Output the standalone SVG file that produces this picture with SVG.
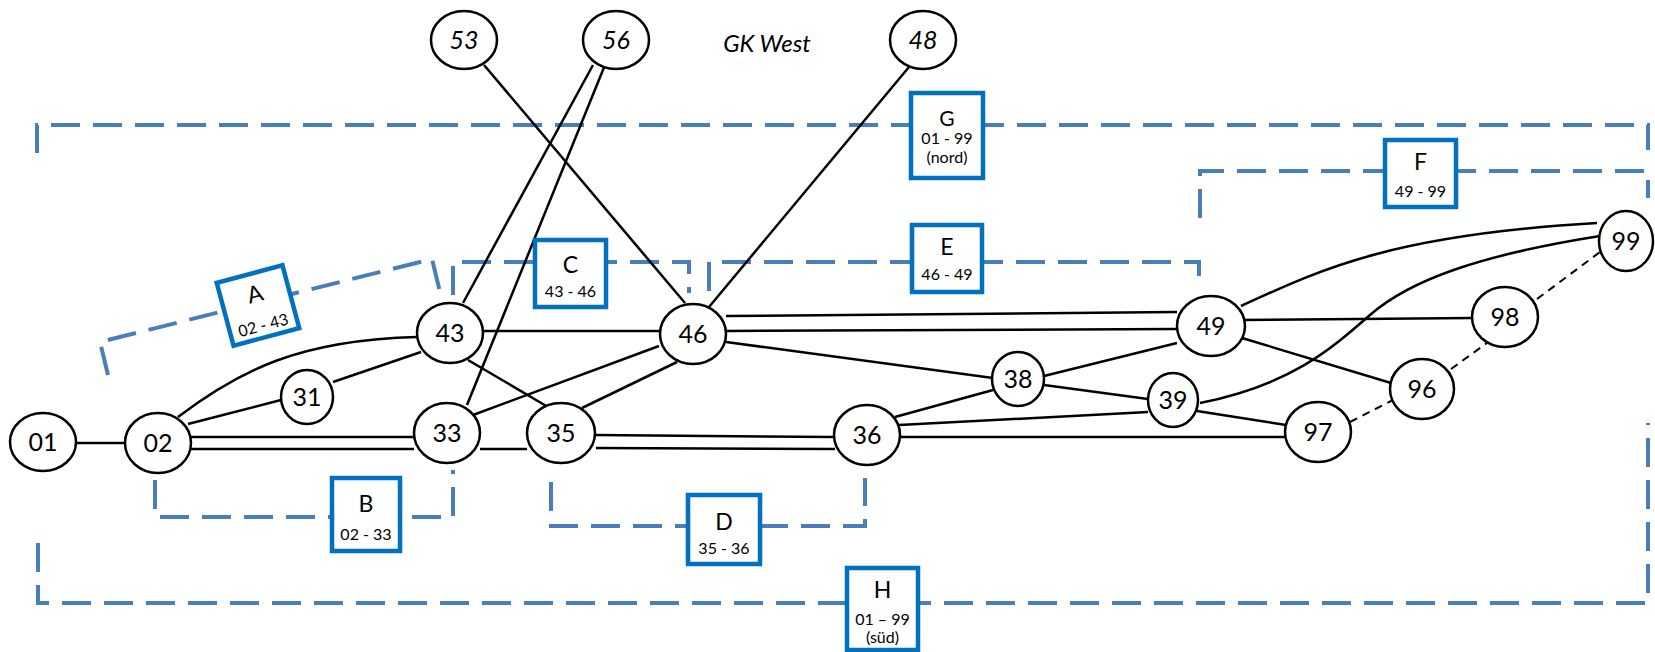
<svg xmlns="http://www.w3.org/2000/svg" width="1655" height="652" viewBox="0 0 1655 652">
<style>
.bg{fill:#ffffff}
.e{stroke:#000;stroke-width:2.5;fill:none}
.ed{stroke:#000;stroke-width:2;fill:none;stroke-dasharray:8 6}
.n{fill:#fff;stroke:#000;stroke-width:2.5}
.nt{font-family:Lato,"Liberation Sans",sans-serif;font-size:25px;fill:#000;text-anchor:middle}
.it{font-style:italic}
.reg{stroke:#4A7EBB;stroke-width:4;fill:none;stroke-dasharray:29 13}
.box{fill:#fff;stroke:#0070C0;stroke-width:4.5}
.bl{font-family:Lato,"Liberation Sans",sans-serif;font-size:23px;fill:#000;text-anchor:middle}
.bs{font-family:Lato,"Liberation Sans",sans-serif;font-size:16px;fill:#000;text-anchor:middle}
</style>
<rect class="bg" x="0" y="0" width="1655" height="652"/>

<g id="regions">
  <path id="reg-A" class="reg" d="M108,375 L100,342 L432,259 L440,292"/>
  <path id="reg-B" class="reg" d="M155,480 L155,517 L453,517 L453,470"/>
  <path id="reg-C" class="reg" d="M453,295 L453,262 L689,262 L689,293"/>
  <path id="reg-D" class="reg" d="M551,482 L551,526 L865,526 L865,478"/>
  <path id="reg-E" class="reg" d="M709,291 L709,262 L1199,262 L1199,285"/>
  <path id="reg-F" class="reg" d="M1200,218 L1200,171 L1648,171 L1648,198"/>
  <path id="reg-G" class="reg" d="M37,153 L37,125 L1648,125 L1648,150"/>
  <path id="reg-H" class="reg" d="M38,543 L38,603 L1648,603 L1648,423"/>
</g>

<g id="connectors">
  <line class="e" x1="76" y1="443" x2="125" y2="443"/>
  <line class="e" x1="188" y1="424" x2="281" y2="400"/>
  <path class="e" d="M178,417 C240,370 300,340 417,337"/>
  <line class="e" x1="333" y1="382" x2="421" y2="352"/>
  <line class="e" x1="191" y1="437" x2="414" y2="437"/>
  <line class="e" x1="191" y1="449" x2="414" y2="449"/>
  <line class="e" x1="480" y1="449" x2="527" y2="449"/>
  <line class="e" x1="483" y1="331" x2="660" y2="331"/>
  <line class="e" x1="468" y1="360" x2="548" y2="407"/>
  <line class="e" x1="473" y1="415" x2="659" y2="346"/>
  <line class="e" x1="582" y1="408" x2="677" y2="362"/>
  <line class="e" x1="593" y1="65" x2="463" y2="303"/>
  <line class="e" x1="605" y1="65" x2="467" y2="405"/>
  <line class="e" x1="484" y1="65" x2="685" y2="303"/>
  <line class="e" x1="909" y1="67" x2="709" y2="307"/>
  <line class="e" x1="726" y1="316" x2="1177" y2="312"/>
  <line class="e" x1="726" y1="331" x2="1177" y2="329"/>
  <line class="e" x1="726" y1="342" x2="993" y2="378"/>
  <line class="e" x1="595" y1="435" x2="834" y2="437"/>
  <line class="e" x1="596" y1="448" x2="835" y2="449"/>
  <line class="e" x1="895" y1="417" x2="993" y2="390"/>
  <line class="e" x1="899" y1="425" x2="1148" y2="412"/>
  <line class="e" x1="899" y1="437" x2="1286" y2="437"/>
  <line class="e" x1="1044" y1="376" x2="1177" y2="343"/>
  <line class="e" x1="1044" y1="385" x2="1148" y2="399"/>
  <line class="e" x1="1197" y1="411" x2="1286" y2="425"/>
  <line class="e" x1="1243" y1="320" x2="1473" y2="318"/>
  <line class="e" x1="1242" y1="338" x2="1391" y2="383"/>
  <path class="e" d="M1241,306 C1320,270 1390,235 1597,223"/>
  <path class="e" d="M1200,403 C1290,385 1330,350 1370,315 S1480,255 1600,236"/>
  <line class="ed" x1="1350" y1="422" x2="1393" y2="400"/>
  <line class="ed" x1="1451" y1="369" x2="1487" y2="343"/>
  <line class="ed" x1="1537" y1="299" x2="1600" y2="252"/>
</g>

<g id="n01"><ellipse class="n" cx="43" cy="442" rx="33" ry="29"/><text class="nt" x="43" y="451">01</text></g>
<g id="n02"><ellipse class="n" cx="158" cy="443" rx="33" ry="30"/><text class="nt" x="158" y="452">02</text></g>
<g id="n31"><ellipse class="n" cx="307" cy="397" rx="26" ry="27"/><text class="nt" x="307" y="406">31</text></g>
<g id="n43"><ellipse class="n" cx="450" cy="333" rx="33" ry="30"/><text class="nt" x="450" y="342">43</text></g>
<g id="n33"><ellipse class="n" cx="447" cy="433" rx="33" ry="30"/><text class="nt" x="447" y="442">33</text></g>
<g id="n53"><ellipse class="n" cx="464" cy="40" rx="33" ry="29"/><text class="nt it" x="464" y="49">53</text></g>
<g id="n56"><ellipse class="n" cx="616" cy="40" rx="33" ry="29"/><text class="nt it" x="616" y="49">56</text></g>
<g id="n48"><ellipse class="n" cx="923" cy="40" rx="33" ry="29"/><text class="nt it" x="923" y="49">48</text></g>
<g id="n46"><ellipse class="n" cx="693" cy="334" rx="33" ry="30"/><text class="nt" x="693" y="343">46</text></g>
<g id="n35"><ellipse class="n" cx="561" cy="433" rx="34" ry="30"/><text class="nt" x="561" y="442">35</text></g>
<g id="n36"><ellipse class="n" cx="867" cy="435" rx="33" ry="30"/><text class="nt" x="867" y="444">36</text></g>
<g id="n38"><ellipse class="n" cx="1018" cy="379" rx="26" ry="27"/><text class="nt" x="1018" y="388">38</text></g>
<g id="n39"><ellipse class="n" cx="1173" cy="400" rx="25" ry="27"/><text class="nt" x="1173" y="409">39</text></g>
<g id="n49"><ellipse class="n" cx="1211" cy="326" rx="34" ry="30"/><text class="nt" x="1211" y="335">49</text></g>
<g id="n96"><ellipse class="n" cx="1422" cy="389" rx="32" ry="30"/><text class="nt" x="1422" y="398">96</text></g>
<g id="n97"><ellipse class="n" cx="1318" cy="432" rx="33" ry="30"/><text class="nt" x="1318" y="441">97</text></g>
<g id="n98"><ellipse class="n" cx="1505" cy="317" rx="33" ry="30"/><text class="nt" x="1505" y="326">98</text></g>
<g id="n99"><ellipse class="n" cx="1626" cy="241" rx="27" ry="30"/><text class="nt" x="1626" y="250">99</text></g>

<g id="title"><text class="nt it" x="767" y="52" style="font-size:24px">GK West</text></g>

<g id="box-A" transform="translate(258,305.5) rotate(-15)">
  <rect class="box" x="-34" y="-32.5" width="68" height="65"/>
  <text class="bl" x="0" y="-4">A</text>
  <text class="bs" x="0" y="26">02 - 43</text>
</g>
<g id="box-B">
  <rect class="box" x="332" y="478" width="68" height="73"/>
  <text class="bl" x="366" y="512">B</text>
  <text class="bs" x="366" y="540">02 - 33</text>
</g>
<g id="box-C">
  <rect class="box" x="535" y="240" width="71" height="67"/>
  <text class="bl" x="570.5" y="273">C</text>
  <text class="bs" x="570.5" y="297">43 - 46</text>
</g>
<g id="box-D">
  <rect class="box" x="688" y="495" width="72" height="69"/>
  <text class="bl" x="724" y="530">D</text>
  <text class="bs" x="724" y="554">35 - 36</text>
</g>
<g id="box-E">
  <rect class="box" x="912" y="225" width="70" height="67"/>
  <text class="bl" x="947" y="255">E</text>
  <text class="bs" x="947" y="280">46 - 49</text>
</g>
<g id="box-F">
  <rect class="box" x="1385" y="140" width="71" height="67"/>
  <text class="bl" x="1420.5" y="170">F</text>
  <text class="bs" x="1420.5" y="197">49 - 99</text>
</g>
<g id="box-G">
  <rect class="box" x="911" y="93" width="72" height="85"/>
  <text class="bl" x="947" y="126" style="font-size:21px">G</text>
  <text class="bs" x="947" y="144">01 - 99</text>
  <text class="bs" x="947" y="163">(nord)</text>
</g>
<g id="box-H">
  <rect class="box" x="847" y="568" width="71" height="82"/>
  <text class="bl" x="882.5" y="598">H</text>
  <text class="bs" x="882.5" y="625">01 – 99</text>
  <text class="bs" x="882.5" y="643">(süd)</text>
</g>
</svg>
